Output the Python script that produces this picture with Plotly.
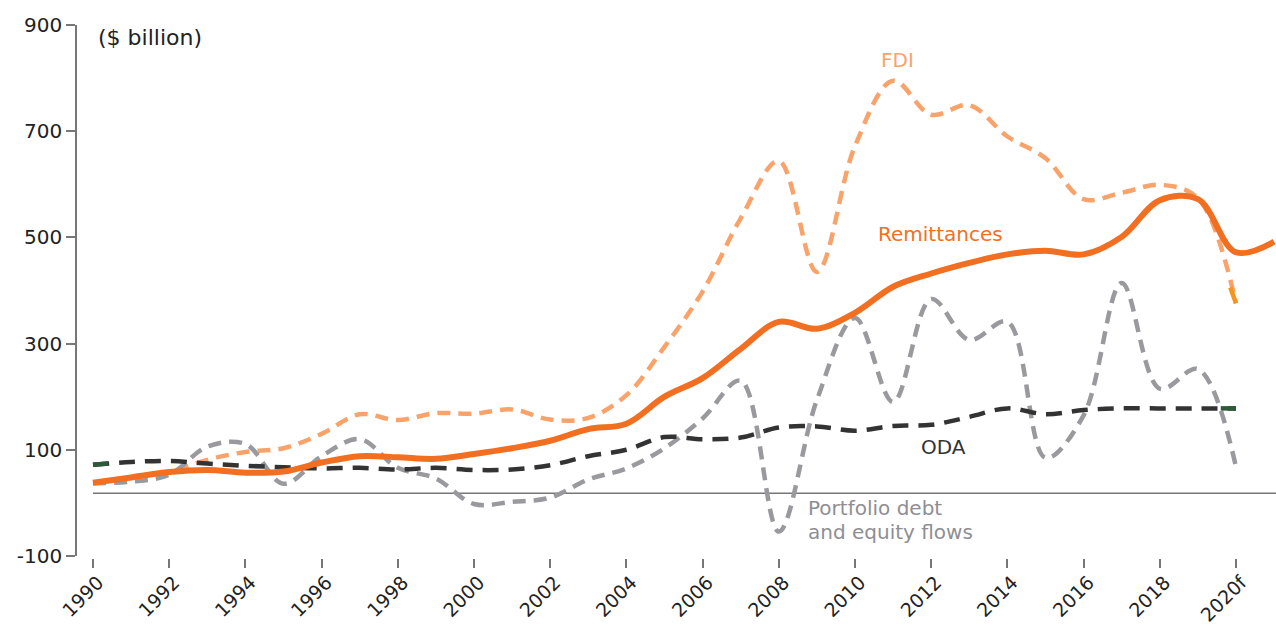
import numpy as np
import plotly.graph_objects as go

years = list(range(1990, 2021))
years_rem = list(range(1990, 2022))

remittances = [38, 48, 58, 62, 57, 59, 76, 88, 86, 83, 92, 103, 117, 139, 149, 200,
               235, 290, 341, 328, 358, 407, 432, 452, 468, 475, 468, 501, 570, 572,
               472, 492]
fdi = [38, 48, 58, 81, 96, 103, 130, 167, 156, 169, 168, 176, 157, 160, 203, 294,
       398, 536, 644, 435, 672, 795, 731, 749, 690, 649, 572, 584, 599, 574, 376]
oda = [72, 77, 79, 74, 70, 67, 65, 66, 63, 66, 62, 63, 71, 88, 100, 124, 120, 123,
       142, 144, 136, 145, 147, 162, 178, 167, 175, 178, 178, 178, 178]
portfolio = [37, 40, 53, 106, 111, 36, 88, 120, 66, 46, -2, 2, 10, 44, 65, 103, 159,
             230, -54, 194, 348, 190, 384, 307, 341, 85, 165, 414, 215, 252, 68]

tick_years = list(range(1990, 2021, 2))
tick_text = [str(y) for y in tick_years[:-1]] + ["2020f"]
y_ticks = [-100, 100, 300, 500, 700, 900]
y_tick_text = ["-100", "100", "300", "500", "700", "900"]
baseline_value = 18

C_REM = "#F26F22"
C_FDI = "#F9A36B"
C_FDI_END = "#F7941D"
C_PORT = "#9A9A9E"
C_ODA = "#333333"
C_GREEN = "#2D5A3A"
FONT = "DejaVu Sans"

fig = go.Figure()

def seg(xs, ys, a, b):
    xx = np.linspace(a, b, 6)
    return xx, np.interp(xx, xs, ys)

fig.add_trace(go.Scatter(x=years, y=fdi, mode="lines", name="FDI",
                         line=dict(color=C_FDI, width=4.5, dash="13px,8px", shape="spline", smoothing=1)))
sx, sy = seg(years, fdi, 2019.85, 2020)
fig.add_trace(go.Scatter(x=sx, y=sy, mode="lines", line=dict(color=C_FDI_END, width=4.5)))

fig.add_trace(go.Scatter(x=years, y=portfolio, mode="lines", name="Portfolio",
                         line=dict(color=C_PORT, width=4.5, dash="13px,8px", shape="spline", smoothing=1)))
fig.add_trace(go.Scatter(x=years, y=oda, mode="lines", name="ODA",
                         line=dict(color=C_ODA, width=4.5, dash="16px,10px", shape="spline", smoothing=1)))
for a, b in [(1990, 1990.4), (2019.6, 2020)]:
    sx, sy = seg(years, oda, a, b)
    fig.add_trace(go.Scatter(x=sx, y=sy, mode="lines", line=dict(color=C_GREEN, width=4.5)))

fig.add_trace(go.Scatter(x=years_rem, y=remittances, mode="lines", name="Remittances",
                         line=dict(color=C_REM, width=6, shape="spline", smoothing=1)))

fig.add_shape(type="line", x0=1990, x1=2021.1, y0=baseline_value, y1=baseline_value,
              line=dict(color="#777777", width=1.5), layer="below")

def label(text, x, y, color, size=20):
    fig.add_annotation(text=text, x=x, y=y, xref="x", yref="y", showarrow=False,
                       xanchor="left", yanchor="middle", borderpad=0,
                       font=dict(family=FONT, size=size, color=color))

label("($ billion)", 1990.1, 877, "#222222", 22)
label("FDI", 2010.66, 834, C_FDI)
label("Remittances", 2010.58, 506, C_REM)
label("ODA", 2011.71, 105, "#333333")
label("Portfolio debt", 2008.74, -9, "#8E8E93")
label("and equity flows", 2008.74, -54, "#8E8E93")

fig.update_layout(
    width=1276, height=628,
    margin=dict(l=77, r=0, t=25, b=70, autoexpand=False),
    plot_bgcolor="white", paper_bgcolor="white",
    showlegend=False,
    font=dict(family=FONT, size=20, color="#222222"),
    xaxis=dict(range=[1989.58, 2021.05], tickvals=tick_years, ticktext=tick_text,
               anchor="free", position=0, automargin=False,
               tickangle=-45, ticks="outside", ticklen=9, tickcolor="#777777", tickwidth=1.5,
               ticklabelshift=5, ticklabelstandoff=-4,
               showline=False, showgrid=False, zeroline=False,
               tickfont=dict(family=FONT, size=19, color="#222222")),
    yaxis=dict(range=[-100, 900], domain=[2 / 533, 1], tickvals=y_ticks, ticktext=y_tick_text,
               automargin=False, ticks="outside", ticklen=9,
               tickcolor="#777777", tickwidth=1.5, showline=True, linecolor="#777777",
               linewidth=1.5, showgrid=False, zeroline=False,
               tickfont=dict(family=FONT, size=20, color="#222222")),
)

fig.write_html("out.html", config={"displayModeBar": False},
               post_script="document.body.style.margin='0';document.body.style.overflow='hidden';")
